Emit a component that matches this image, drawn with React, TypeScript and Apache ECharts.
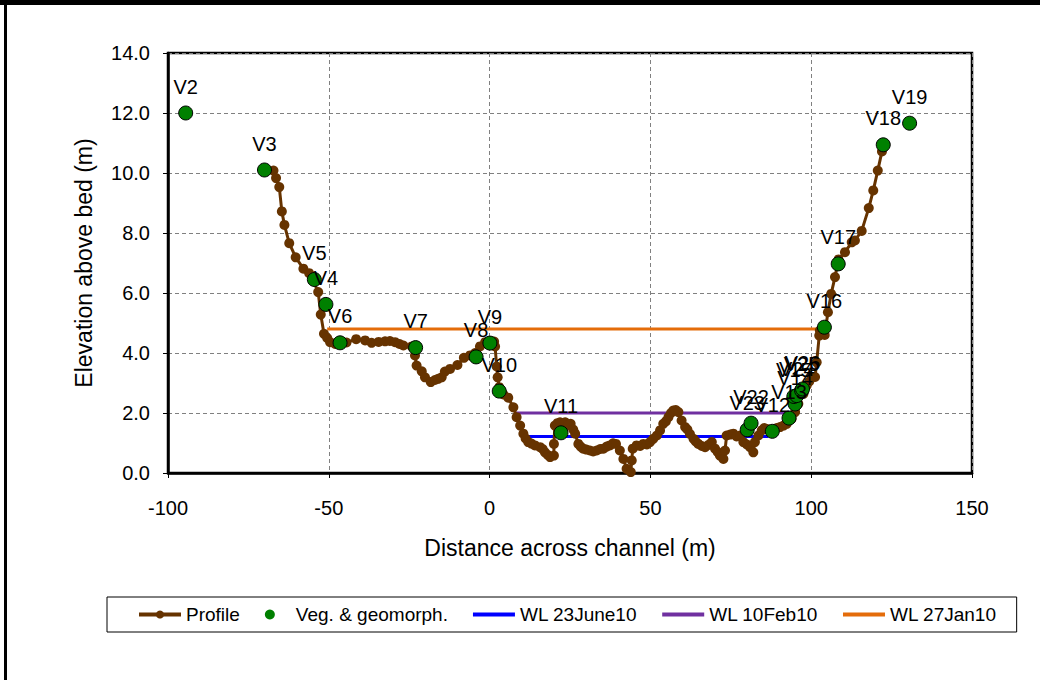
import React, { useEffect, useRef } from "react";
import * as echarts from "echarts";

// Surveyed bed profile: [distance across channel (m), elevation above bed (m)]
const profile: number[][] = [
  [-69.5, 10.1], [-67.2, 10.08], [-66.4, 9.83], [-65.4, 9.53], [-64.6, 8.72], [-63.8, 8.27],
  [-62.3, 7.66], [-60.3, 7.19], [-57.9, 6.81], [-56.1, 6.66], [-54.8, 6.4], [-53.3, 6.03],
  [-52.5, 5.28], [-51.5, 4.64], [-50.5, 4.5], [-49.6, 4.36], [-48.0, 4.3], [-46.5, 4.32],
  [-44.5, 4.35], [-41.5, 4.46], [-38.7, 4.42], [-36.7, 4.34], [-34.5, 4.37], [-32.5, 4.39],
  [-31.0, 4.4], [-29.4, 4.36], [-28.0, 4.3], [-26.8, 4.25], [-24.2, 4.22], [-23.2, 3.92],
  [-22.7, 3.58], [-21.1, 3.39], [-20.1, 3.19], [-18.3, 3.03], [-17.0, 3.1], [-16.0, 3.14],
  [-14.9, 3.19], [-13.9, 3.38], [-12.3, 3.47], [-10.0, 3.6], [-8.0, 3.84], [-6.1, 3.92],
  [-4.5, 4.0], [-3.0, 4.22], [-1.4, 4.36], [0.0, 4.4], [1.4, 4.38], [1.7, 4.22],
  [2.2, 3.55], [2.5, 3.19], [3.0, 2.86], [4.3, 2.62], [5.8, 2.51], [7.4, 2.19],
  [8.4, 1.86], [9.5, 1.58], [10.5, 1.31], [11.2, 1.15], [12.0, 1.03], [13.0, 0.98],
  [14.1, 0.92], [15.7, 0.86], [16.5, 0.8], [17.2, 0.69], [18.1, 0.6], [18.8, 0.53],
  [20.0, 0.58], [20.0, 0.97], [20.3, 1.58], [21.1, 1.66], [21.9, 1.69], [23.5, 1.69],
  [24.4, 1.6], [25.2, 1.64], [26.0, 1.45], [26.6, 1.31], [27.6, 0.97], [28.3, 0.88],
  [29.1, 0.81], [30.1, 0.78], [31.2, 0.75], [32.2, 0.72], [33.3, 0.75], [34.4, 0.8],
  [35.4, 0.81], [36.4, 0.88], [37.4, 0.92], [38.4, 0.99], [39.3, 0.97], [40.5, 0.75],
  [41.6, 0.47], [42.6, 0.14], [43.9, 0.03], [44.2, 0.42], [44.5, 0.81], [45.7, 0.92],
  [46.8, 0.9], [47.8, 0.97], [48.9, 0.95], [49.9, 1.03], [50.9, 1.14], [52.0, 1.25],
  [53.0, 1.42], [54.0, 1.64], [54.8, 1.72], [55.6, 1.86], [56.4, 2.0], [57.1, 2.08],
  [57.9, 2.1], [58.7, 2.03], [59.7, 1.75], [60.8, 1.53], [61.5, 1.45], [62.3, 1.3],
  [63.4, 1.14], [64.1, 1.05], [64.9, 0.97], [66.0, 0.9], [67.0, 0.86], [68.1, 0.94],
  [69.1, 1.03], [70.1, 0.81], [70.9, 0.7], [71.6, 0.58], [72.7, 0.47], [73.2, 0.75],
  [73.7, 1.25], [74.8, 1.28], [75.8, 1.31], [76.8, 1.22], [77.9, 1.25], [78.9, 1.03],
  [80.0, 0.95], [81.0, 0.86], [82.0, 0.69], [82.5, 1.03], [83.6, 1.25], [84.6, 1.42],
  [85.4, 1.5], [86.2, 1.47], [87.2, 1.38], [88.2, 1.42], [89.3, 1.5], [90.3, 1.53],
  [91.4, 1.58], [92.4, 1.64], [93.9, 1.81], [95.0, 2.03], [96.0, 2.31], [97.6, 2.64],
  [98.6, 2.92], [99.4, 3.05], [100.2, 3.19], [101.2, 3.2], [101.7, 3.69], [102.5, 4.58],
  [102.7, 4.75], [104.2, 4.6], [105.2, 5.36], [106.2, 5.97], [107.4, 6.53], [108.5, 7.12],
  [110.5, 7.36], [112.6, 7.69], [113.6, 7.75], [115.7, 8.07], [117.9, 8.83], [119.3, 9.42],
  [120.7, 10.08], [122.0, 10.72], [123.0, 10.96],
];

// Vegetation & geomorphology observation points
const vegNames: string[] = [
  "V2", "V3", "V5", "V4", "V6", "V7", "V8", "V9", "V10", "V11", "V23", "V22",
  "V12", "V13", "V14", "V15", "V24", "V25", "V26", "V16", "V17", "V18", "V19",
];
const vegX: number[] = [
  -94.5, -70.0, -54.5, -50.9, -46.5, -23.0, -4.2, 0.1, 3.0, 22.2, 80.1, 81.3,
  87.9, 93.1, 95.0, 94.6, 95.5, 97.0, 97.3, 104.1, 108.4, 122.4, 130.6,
];
const vegY: number[] = [
  12.0, 10.1, 6.45, 5.62, 4.34, 4.18, 3.87, 4.33, 2.73, 1.34, 1.44, 1.66,
  1.39, 1.83, 2.3, 2.55, 2.58, 2.75, 2.8, 4.86, 6.97, 10.94, 11.66,
];

// Water levels: [start distance, end distance, level]
const wlJune: number[] = [11.5, 86.7, 1.22];
const wlFeb: number[] = [7.7, 92.4, 2.0];
const wlJan: number[] = [-50.5, 102.6, 4.8];

const xTicks = [-100, -50, 0, 50, 100, 150];

const FONT = "'Liberation Sans', Arial, sans-serif";
const BAR_ICON = "path://M0,0L42,0L42,4L0,4Z";

function levelLine(w: number[]): number[][] {
  return [
    [w[0], w[2]],
    [w[1], w[2]],
  ];
}

export default function App() {
  const ref = useRef<HTMLDivElement>(null);

  useEffect(() => {
    if (!ref.current) return;
    const chart = echarts.init(ref.current, null, { renderer: "svg" });

    const gridLine = { show: true, lineStyle: { color: "#808080", type: [4, 3], width: 1 } };

    chart.setOption({
      animation: false,
      backgroundColor: "#ffffff",
      textStyle: { fontFamily: FONT },
      grid: {
        left: 168,
        right: 68,
        top: 53,
        bottom: 207,
        show: true,
        borderColor: "#000",
        borderWidth: 2.5,
        backgroundColor: "transparent",
      },
      xAxis: {
        type: "value",
        min: xTicks[0],
        max: xTicks[xTicks.length - 1],
        interval: 50,
        name: "Distance across channel (m)",
        nameLocation: "middle",
        nameGap: 63,
        nameTextStyle: { fontSize: 23, color: "#000", fontFamily: FONT },
        axisLine: { show: true, onZero: false, lineStyle: { color: "#000", width: 2.5 } },
        axisTick: { show: true, length: 5, lineStyle: { color: "#000", width: 1 } },
        axisLabel: { fontSize: 20, color: "#000", margin: 25, fontFamily: FONT },
        splitLine: gridLine,
      },
      yAxis: {
        type: "value",
        min: 0,
        max: 14,
        interval: 2,
        name: "Elevation above bed (m)",
        nameLocation: "middle",
        nameGap: 73,
        nameTextStyle: { fontSize: 23, color: "#000", fontFamily: FONT },
        axisLine: { show: true, onZero: false, lineStyle: { color: "#000", width: 2.5 } },
        axisTick: { show: true, length: 5, lineStyle: { color: "#000", width: 1 } },
        axisLabel: {
          fontSize: 20,
          color: "#000",
          margin: 18,
          fontFamily: FONT,
          formatter: (v: number) => v.toFixed(1),
        },
        splitLine: gridLine,
      },
      legend: {
        left: 107,
        top: 597,
        padding: [8, 20, 8, 30],
        itemGap: 25,
        itemWidth: 42,
        itemHeight: 10,
        borderColor: "#000",
        borderWidth: 1,
        backgroundColor: "#fff",
        textStyle: { fontSize: 19, color: "#000", fontFamily: FONT },
        data: [
          { name: "Profile", lineStyle: { width: 4 } },
          { name: "Veg. & geomorph.", icon: "circle", itemStyle: { borderWidth: 0 } },
          { name: "WL 23June10", icon: BAR_ICON },
          { name: "WL 10Feb10", icon: BAR_ICON },
          { name: "WL 27Jan10", icon: BAR_ICON },
        ],
      },
      graphic: [
        { type: "rect", shape: { x: 0, y: 0, width: 1040, height: 5 }, style: { fill: "#000" } },
        { type: "rect", shape: { x: 4, y: 0, width: 3, height: 680 }, style: { fill: "#000" } },
      ],
      series: [
        {
          name: "WL 27Jan10",
          type: "line",
          data: levelLine(wlJan),
          symbol: "none",
          lineStyle: { color: "#E46C0A", width: 3 },
          itemStyle: { color: "#E46C0A" },
          z: 2,
        },
        {
          name: "WL 10Feb10",
          type: "line",
          data: levelLine(wlFeb),
          symbol: "none",
          lineStyle: { color: "#7030A0", width: 3 },
          itemStyle: { color: "#7030A0" },
          z: 2,
        },
        {
          name: "WL 23June10",
          type: "line",
          data: levelLine(wlJune),
          symbol: "none",
          lineStyle: { color: "#0000FF", width: 3 },
          itemStyle: { color: "#0000FF" },
          z: 2,
        },
        {
          name: "Profile",
          type: "line",
          data: profile,
          symbol: "circle",
          symbolSize: 10,
          showAllSymbol: true,
          lineStyle: { color: "#663300", width: 3 },
          itemStyle: { color: "#663300" },
          z: 3,
        },
        {
          name: "Veg. & geomorph.",
          type: "scatter",
          data: vegX.map((x, i) => ({ name: vegNames[i], value: [x, vegY[i]] })),
          symbol: "circle",
          symbolSize: 14,
          itemStyle: { color: "#008000", borderColor: "#000", borderWidth: 1, opacity: 1 },
          label: {
            show: true,
            position: "top",
            distance: 9,
            formatter: (p: any) => p.name,
            fontSize: 20,
            color: "#000",
            fontFamily: FONT,
          },
          z: 4,
        },
      ],
    });

    return () => chart.dispose();
  }, []);

  return (
    <div
      ref={ref}
      style={{ position: "absolute", left: 0, top: 0, width: 1040, height: 680, background: "#fff" }}
    />
  );
}
